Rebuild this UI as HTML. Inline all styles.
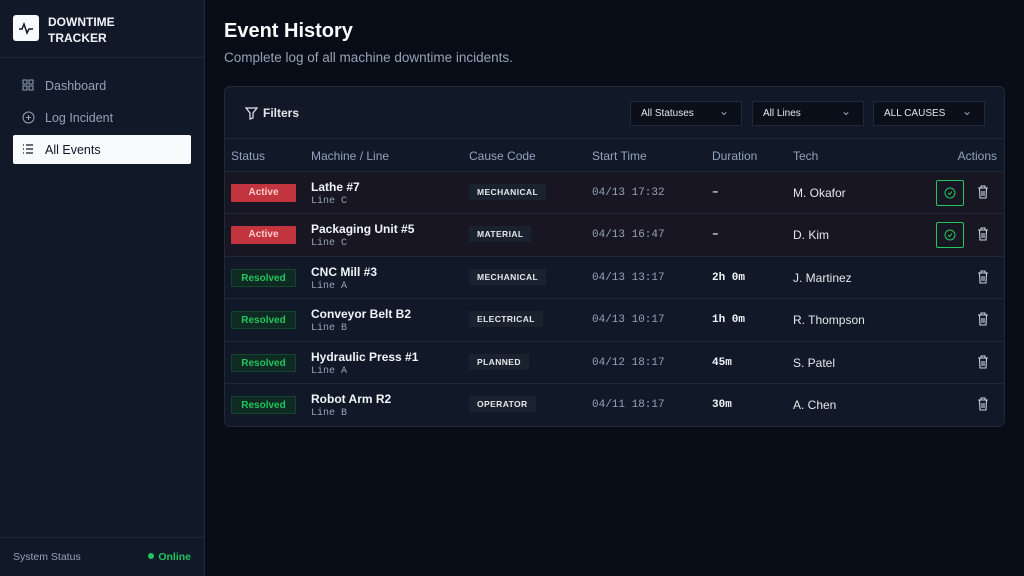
<!DOCTYPE html>
<html><head><meta charset="utf-8"><style>
*{box-sizing:border-box;margin:0;padding:0}
body{width:1024px;height:576px;background:#080c16;font-family:"Liberation Sans",sans-serif;color:#e5e7eb;position:relative;overflow:hidden}
.side{position:absolute;left:0;top:0;width:205px;height:576px;background:#111827;border-right:1px solid #1f2937}
.logo{position:absolute;left:13px;top:15px;width:26px;height:26px;background:#f8fafc;border-radius:3px}
.brand{position:absolute;left:48px;top:14px;font-size:12px;font-weight:bold;line-height:16px;color:#f1f5f9}
.sep{position:absolute;left:0;top:57px;width:204px;border-top:1px solid #1f2937}
.nav{position:absolute;left:13px;width:178px;height:29px;font-size:12.5px;color:#94a3b8;padding-left:32px;line-height:30px;border-radius:2px}
.nav.act{background:#f8fafc;color:#0f172a}
.nav svg{position:absolute;left:9px;top:8px}
.foot{position:absolute;left:0;top:537px;width:204px;border-top:1px solid #1f2937;height:39px;font-size:10.5px;color:#94a3b8;padding:13px 13px}
.on{position:absolute;right:13px;top:13px;color:#22c55e;font-weight:bold}
.on:before{content:"";display:inline-block;width:6px;height:6px;border-radius:3px;background:#22c55e;margin-right:4px;vertical-align:1px}
h1{position:absolute;left:224px;top:20px;font-size:20px;font-weight:bold;color:#f8fafc}
.sub{position:absolute;left:224px;top:50px;font-size:13.5px;color:#94a3b8}
.card{position:absolute;left:224px;top:86px;width:781px;height:341px;background:#111827;border:1px solid #1f2937;border-radius:6px;overflow:hidden}
.fh{height:52px;border-bottom:1px solid #1f2937;position:relative}
.fh .t{position:absolute;left:38px;top:19px;font-size:12px;font-weight:bold;color:#e5e7eb}
.sel{position:absolute;top:14px;width:112px;height:25px;background:#0a0f1a;border:1px solid #1f2937;font-size:10px;color:#e5e7eb;padding:6px 10px}
.sel:after{content:"⌄";position:absolute;right:12px;top:2px;color:#94a3b8;font-size:12px}
.th{height:33px;border-bottom:1px solid #1f2937;position:relative;font-size:12px;color:#94a3b8}
.th span,.row span{position:absolute}
.row{height:42.4px;border-bottom:1px solid #1f2937;position:relative;font-size:12px}
.row.a{background:#181622}
.b{left:6px;top:12px;width:65px;height:18px;font-size:10px;font-weight:bold;text-align:center;line-height:17px;border-radius:1px}
.ba{background:#c2353f;color:#fecaca}
.br{background:#0f2a23;border:1px solid #14472a;color:#22c55e}
.nm{left:86px;top:8px;font-weight:bold;color:#f1f5f9}
.ln{left:86px;top:24px;font-family:"Liberation Mono",monospace;font-size:10px;color:#94a3b8}
.cc{left:244px;top:12px;background:#1a2230;font-size:8.5px;font-weight:bold;letter-spacing:.4px;padding:3px 8px;color:#e5e7eb}
.st{left:367px;top:15px;font-family:"Liberation Mono",monospace;color:#94a3b8;font-size:11px}
.du{left:487px;top:15px;font-family:"Liberation Mono",monospace;font-weight:bold;color:#f1f5f9;font-size:11px}
.te{left:568px;top:14px;color:#e5e7eb}
.chk{left:711px;top:8px;width:28px;height:26px;border:1px solid #22c55e;border-radius:2px}
.del{left:752px;top:13px}
</style></head><body>
<div class="side">
<div class="logo"><svg width="26" height="26" viewBox="0 0 26 26"><path d="M6 14h3l2-5 3 9 2-4h4" fill="none" stroke="#111827" stroke-width="1.5"/></svg></div>
<div class="brand">DOWNTIME<br>TRACKER</div>
<div class="sep"></div>
<div class="nav" style="top:71px"><svg width="12" height="12"><rect x="1" y="1" width="4" height="4" fill="none" stroke="#94a3b8"/><rect x="7" y="1" width="4" height="4" fill="none" stroke="#94a3b8"/><rect x="1" y="7" width="4" height="4" fill="none" stroke="#94a3b8"/><rect x="7" y="7" width="4" height="4" fill="none" stroke="#94a3b8"/></svg>Dashboard</div>
<div class="nav" style="top:103px"><svg width="13" height="13"><circle cx="6.5" cy="6.5" r="5.5" fill="none" stroke="#94a3b8"/><path d="M4 6.5h5M6.5 4v5" stroke="#94a3b8"/></svg>Log Incident</div>
<div class="nav act" style="top:135px"><svg width="12" height="12"><path d="M1 2h1M4 2h7M1 6h1M4 6h7M1 10h1M4 10h7" stroke="#0f172a" stroke-width="1.3"/></svg>All Events</div>
<div class="foot">System Status<span class="on">Online</span></div>
</div>
<h1>Event History</h1>
<div class="sub">Complete log of all machine downtime incidents.</div>
<div class="card">
<div class="fh"><svg style="position:absolute;left:20px;top:20px" width="13" height="13"><path d="M1 1h11L8 6v5l-3 1V6z" fill="none" stroke="#e5e7eb" stroke-width="1.2"/></svg><span class="t">Filters</span>
<div class="sel" style="left:405px">All Statuses</div><div class="sel" style="left:527px">All Lines</div><div class="sel" style="left:648px">ALL CAUSES</div></div>
<div class="th"><span style="left:6px;top:10px">Status</span><span style="left:86px;top:10px">Machine / Line</span><span style="left:244px;top:10px">Cause Code</span><span style="left:367px;top:10px">Start Time</span><span style="left:487px;top:10px">Duration</span><span style="left:568px;top:10px">Tech</span><span style="right:7px;top:10px">Actions</span></div>
<div class="row a"><span class="b ba">Active</span><span class="nm">Lathe #7</span><span class="ln">Line C</span><span class="cc">MECHANICAL</span><span class="st">04/13 17:32</span><span class="du">–</span><span class="te">M. Okafor</span><span class="chk"><svg width="26" height="24"><circle cx="13" cy="12" r="5" fill="none" stroke="#22c55e"/><path d="M11 12l1.5 1.5 2.5-3" fill="none" stroke="#22c55e"/></svg></span><span class="del"><svg width="12" height="14"><path d="M1 3h10M4 3V1h4v2M2.5 3l.5 10h6l.5-10M5 6v5M7 6v5" fill="none" stroke="#cbd5e1" stroke-width="1.1"/></svg></span></div>
<div class="row a"><span class="b ba">Active</span><span class="nm">Packaging Unit #5</span><span class="ln">Line C</span><span class="cc">MATERIAL</span><span class="st">04/13 16:47</span><span class="du">–</span><span class="te">D. Kim</span><span class="chk"><svg width="26" height="24"><circle cx="13" cy="12" r="5" fill="none" stroke="#22c55e"/><path d="M11 12l1.5 1.5 2.5-3" fill="none" stroke="#22c55e"/></svg></span><span class="del"><svg width="12" height="14"><path d="M1 3h10M4 3V1h4v2M2.5 3l.5 10h6l.5-10M5 6v5M7 6v5" fill="none" stroke="#cbd5e1" stroke-width="1.1"/></svg></span></div>
<div class="row"><span class="b br">Resolved</span><span class="nm">CNC Mill #3</span><span class="ln">Line A</span><span class="cc">MECHANICAL</span><span class="st">04/13 13:17</span><span class="du">2h 0m</span><span class="te">J. Martinez</span><span class="del"><svg width="12" height="14"><path d="M1 3h10M4 3V1h4v2M2.5 3l.5 10h6l.5-10M5 6v5M7 6v5" fill="none" stroke="#cbd5e1" stroke-width="1.1"/></svg></span></div>
<div class="row"><span class="b br">Resolved</span><span class="nm">Conveyor Belt B2</span><span class="ln">Line B</span><span class="cc">ELECTRICAL</span><span class="st">04/13 10:17</span><span class="du">1h 0m</span><span class="te">R. Thompson</span><span class="del"><svg width="12" height="14"><path d="M1 3h10M4 3V1h4v2M2.5 3l.5 10h6l.5-10M5 6v5M7 6v5" fill="none" stroke="#cbd5e1" stroke-width="1.1"/></svg></span></div>
<div class="row"><span class="b br">Resolved</span><span class="nm">Hydraulic Press #1</span><span class="ln">Line A</span><span class="cc">PLANNED</span><span class="st">04/12 18:17</span><span class="du">45m</span><span class="te">S. Patel</span><span class="del"><svg width="12" height="14"><path d="M1 3h10M4 3V1h4v2M2.5 3l.5 10h6l.5-10M5 6v5M7 6v5" fill="none" stroke="#cbd5e1" stroke-width="1.1"/></svg></span></div>
<div class="row" style="border-bottom:none"><span class="b br">Resolved</span><span class="nm">Robot Arm R2</span><span class="ln">Line B</span><span class="cc">OPERATOR</span><span class="st">04/11 18:17</span><span class="du">30m</span><span class="te">A. Chen</span><span class="del"><svg width="12" height="14"><path d="M1 3h10M4 3V1h4v2M2.5 3l.5 10h6l.5-10M5 6v5M7 6v5" fill="none" stroke="#cbd5e1" stroke-width="1.1"/></svg></span></div>
</div>
</body></html>
